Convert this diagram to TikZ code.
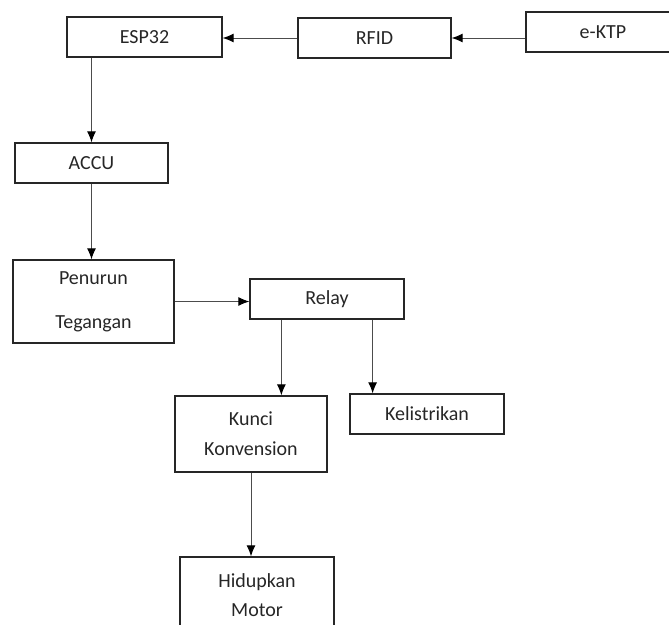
\documentclass[tikz,border=0pt]{standalone}
\usepackage{fontspec}
\setmainfont{Carlito}
\usepackage{tikz}
\usetikzlibrary{arrows.meta}

\tikzset{
	blok/.style={draw=black!85, line width=1.3pt, rectangle, minimum width=154pt, minimum height=40pt, inner sep=0pt, align=center, text=black!85, font=\fontsize{20}{24}\selectfont},
	arr/.style={draw=black!70, line width=1pt, -{Latex[length=11pt,width=9pt,fill=black,color=black]}}
}

\begin{document}
\begin{tikzpicture}[x=1pt, y=-1pt]
			\clip (0,0) rectangle (669,624);
			
			\node[blok, minimum width=155pt] (esp) at (144.5,37) {ESP32};%
			\node[blok, minimum width=153pt] (rfid) at (374.5,38) {RFID};%
			\node[blok] (ektp) at (603,32) {e-KTP};%
			
			\node[blok, minimum width=153pt] (accu) at (91.5,163) {ACCU};%
			\node[blok, minimum width=161pt, minimum height=83pt] (pen) at (93.5,301.5) {Penurun\\[20pt]Tegangan};%
			\node[blok] (relay) at (327,299) {Relay};%
			
			\node[blok, minimum width=152pt, minimum height=76pt] (kunci) at (251,434) {Kunci\\[6pt]Konvension};%
			\node[blok] (kel) at (427,414) {Kelistrikan};%
			\node[blok, minimum height=76pt] (hidup) at (257,595) {Hidupkan\\[5pt]Motor};%
			
			% arah sinyal
			\draw[arr] (ektp.west |- rfid.east) -- (rfid.east);
			\draw[arr] (rfid.west) -- (esp.east |- rfid.west);
			\draw[arr] (accu.north |- esp.south) -- (accu.north);
			\draw[arr] (accu.south) -- (accu.south |- pen.north);
			\draw[arr] (pen.east) -- (relay.west |- pen.east);
			
			\coordinate (r1) at ([xshift=32pt]relay.south west);
			\coordinate (r2) at ([xshift=-32pt]relay.south east);
			\draw[arr] (r1) -- (r1 |- kunci.north);
			\draw[arr] (r2) -- (r2 |- kel.north);
			\draw[arr] (kunci.south) -- (kunci.south |- hidup.north);
			
\end{tikzpicture}
\end{document}
